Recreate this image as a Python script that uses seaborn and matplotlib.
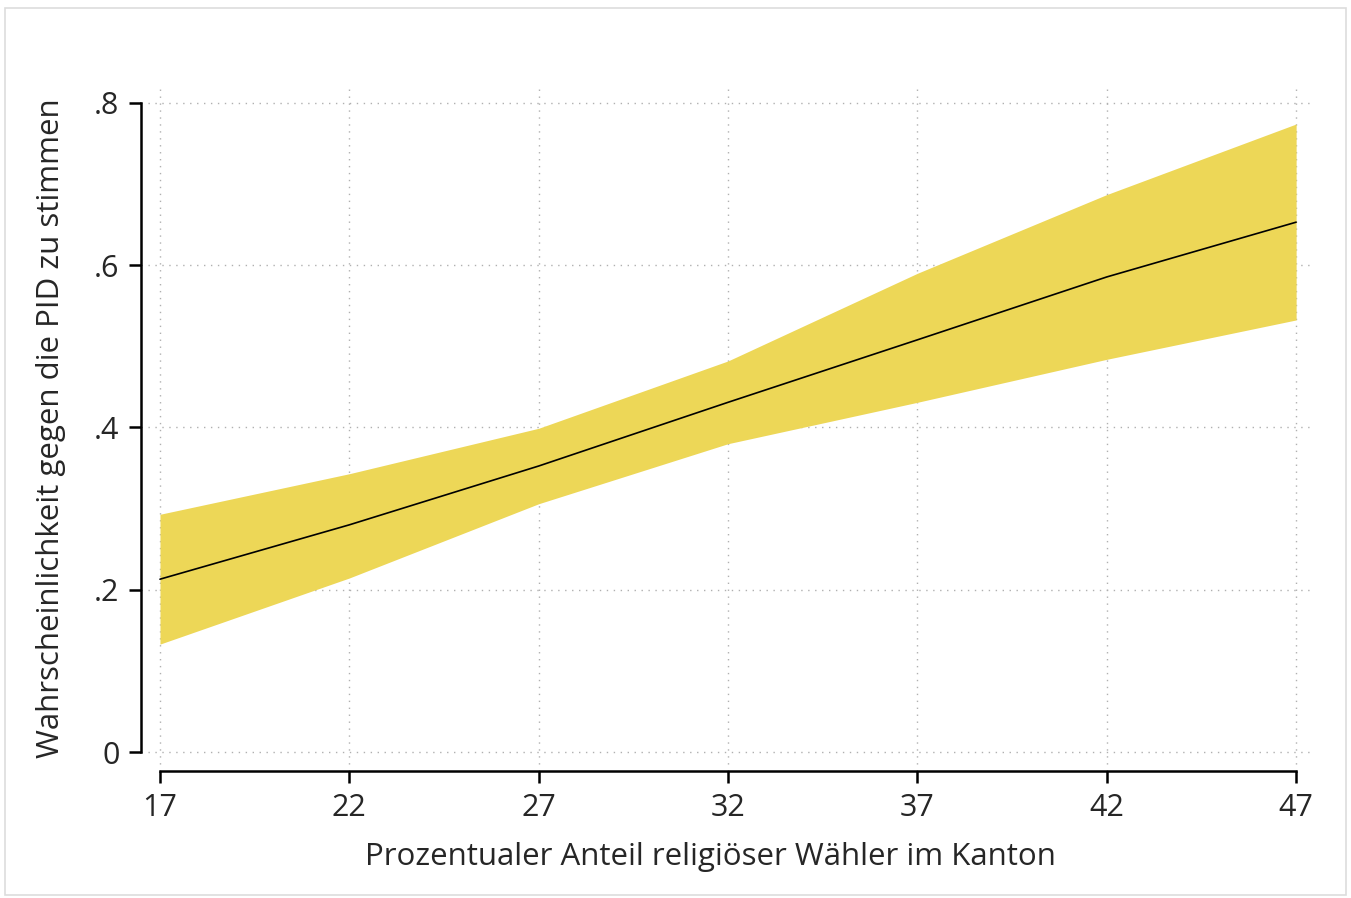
import numpy as np
import pandas as pd
import seaborn as sns
import matplotlib.pyplot as plt
from matplotlib.patches import Rectangle

# --- Daten ---
anteil_religioes = [17, 22, 27, 32, 37, 42, 47]
wahrscheinlichkeit = [0.213, 0.280, 0.3525, 0.431, 0.508, 0.5855, 0.653]
ki_oben = [0.293, 0.343, 0.399, 0.482, 0.590, 0.687, 0.774]
ki_unten = [0.133, 0.2145, 0.306, 0.380, 0.431, 0.484, 0.5325]

y_ticks = [0, 0.2, 0.4, 0.6, 0.8]
y_ticklabels = ['0', '.2', '.4', '.6', '.8']

df = pd.DataFrame({'x': anteil_religioes, 'y': wahrscheinlichkeit,
                   'lo': ki_unten, 'hi': ki_oben})

sns.set_style('white')
plt.rcParams['font.family'] = ['Open Sans', 'DejaVu Sans']

fig = plt.figure(figsize=(13.51, 8.98), dpi=100)
ax = fig.add_axes([0.1044, 0.1414, 0.8690, 0.7639])

ax.fill_between(df['x'], df['lo'], df['hi'], color='#EDD757', linewidth=0, zorder=2)
sns.lineplot(data=df, x='x', y='y', color='black', linewidth=1.2, ax=ax, zorder=3)

ax.set_xlim(16.5, 47.5)
ax.set_ylim(-0.0234, 0.822)
ax.set_xticks(anteil_religioes)
ax.set_yticks(y_ticks)
ax.set_yticklabels(y_ticklabels)

ax.grid(True, linestyle=(0, (1, 4)), color='#b0b0b0', linewidth=1)
ax.set_axisbelow(True)

for s in ['top', 'right']:
    ax.spines[s].set_visible(False)
for s in ['left', 'bottom']:
    ax.spines[s].set_color('black')
    ax.spines[s].set_linewidth(1.8)
ax.spines['left'].set_bounds(0, 0.8)
ax.spines['bottom'].set_bounds(17, 47)

ax.tick_params(axis='both', direction='out', length=8.5, width=1.8,
               color='black', labelsize=22, pad=7, left=True, bottom=True)

ax.set_xlabel('Prozentualer Anteil religiöser Wähler im Kanton', fontsize=22.5, labelpad=14)
ax.set_ylabel('Wahrscheinlichkeit gegen die PID zu stimmen', fontsize=22.5, labelpad=20)
ax.xaxis.set_label_coords(0.485, -0.103)

fig.patches.append(Rectangle((0.004, 0.003), 0.992, 0.988, transform=fig.transFigure,
                             fill=False, edgecolor='#dddddd', linewidth=1.2))

fig.savefig('out.png', dpi=100)
